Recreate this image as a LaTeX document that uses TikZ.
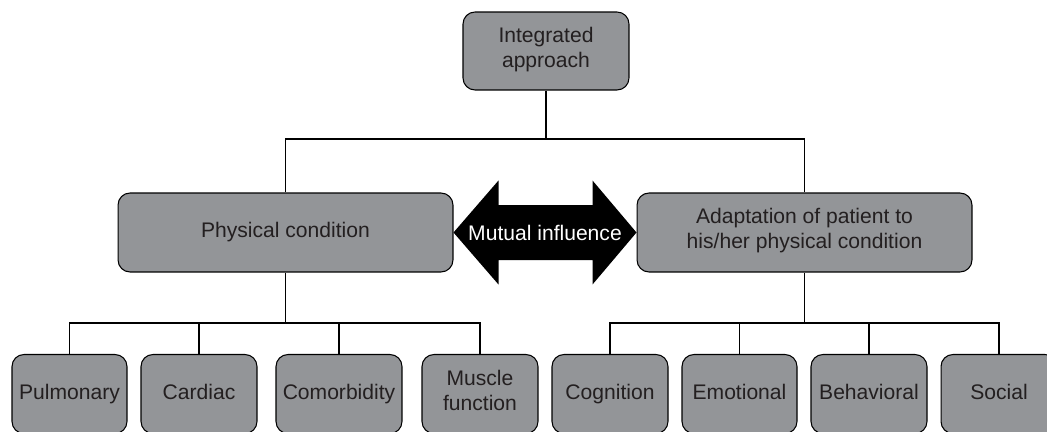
\documentclass[tikz,border=0pt]{standalone}
\usepackage{fontspec}
\setmainfont{Liberation Sans}
\usetikzlibrary{calc}
\definecolor{boxgray}{RGB}{147,149,152}
\definecolor{textdark}{RGB}{35,31,32}
\begin{document}
\begin{tikzpicture}[x=0.02cm, y=-0.02cm]
\tikzset{boite/.style={draw, fill=boxgray, rounded corners=0.24cm, align=center, inner sep=0pt, line width=0.6pt, text=textdark, font=\fontsize{12}{14.4}\selectfont, minimum height=1.58cm, execute at begin node=\strut, execute at end node=\strut}}
\clip (0,0) rectangle (1047,432);
\node[boite, minimum width=3.32cm, minimum height=1.56cm] (I) at (546,51) {Integrated\\approach};
\node[boite, minimum width=6.7cm] (P) at (285.5,232.5) {Physical condition};
\node[boite, minimum width=6.7cm] (A) at (804.5,232.5) {Adaptation of patient to\\his/her physical condition};
\node[boite, minimum width=2.3cm] (P1) at (69.5,394) {Pulmonary};
\node[boite, minimum width=2.32cm] (P2) at (199,394) {Cardiac};
\node[boite, minimum width=2.52cm] (P3) at (339,394) {Comorbidity};
\node[boite, minimum width=2.32cm] (P4) at (480,394) {Muscle\\function};
\node[boite, minimum width=2.32cm] (A1) at (610,394) {Cognition};
\node[boite, minimum width=2.3cm] (A2) at (739.5,394) {Emotional};
\node[boite, minimum width=2.32cm] (A3) at (869,394) {Behavioral};
\node[boite, minimum width=2.32cm] (A4) at (999,394) {Social};
\coordinate (J) at (546,139);
\coordinate (JP) at (285.5,323);
\coordinate (JA) at (804.5,323);
\draw[line width=0.6pt] (I.south) -- (J);
\draw[line width=0.6pt] (P.north) |- (J) -| (A.north);
\draw[line width=0.6pt] (P.south) -- (JP);
\draw[line width=0.6pt] (P1.north) |- (P4.north |- JP) -- (P4.north);
\draw[line width=0.6pt] (P2.north) -- (P2.north |- JP);
\draw[line width=0.6pt] (P3.north) -- (P3.north |- JP);
\draw[line width=0.6pt] (A.south) -- (JA);
\draw[line width=0.6pt] (A1.north) |- (A4.north |- JA) -- (A4.north);
\draw[line width=0.6pt] (A2.north) -- (A2.north |- JA);
\draw[line width=0.6pt] (A3.north) -- (A3.north |- JA);
\fill (P.east) -- ($(P.east)+(45,-52)$) -- ($(P.east)+(45,-27.5)$) -- ($(A.west)+(-44,-27.5)$) -- ($(A.west)+(-44,-52)$) -- (A.west) -- ($(A.west)+(-44,52)$) -- ($(A.west)+(-44,27.5)$) -- ($(P.east)+(45,27.5)$) -- ($(P.east)+(45,52)$) -- cycle;
\node[text=white, font=\fontsize{12}{14.4}\selectfont] (M) at ($(P.east)!0.5!(A.west)$) {Mutual influence};
\end{tikzpicture}
\end{document}
